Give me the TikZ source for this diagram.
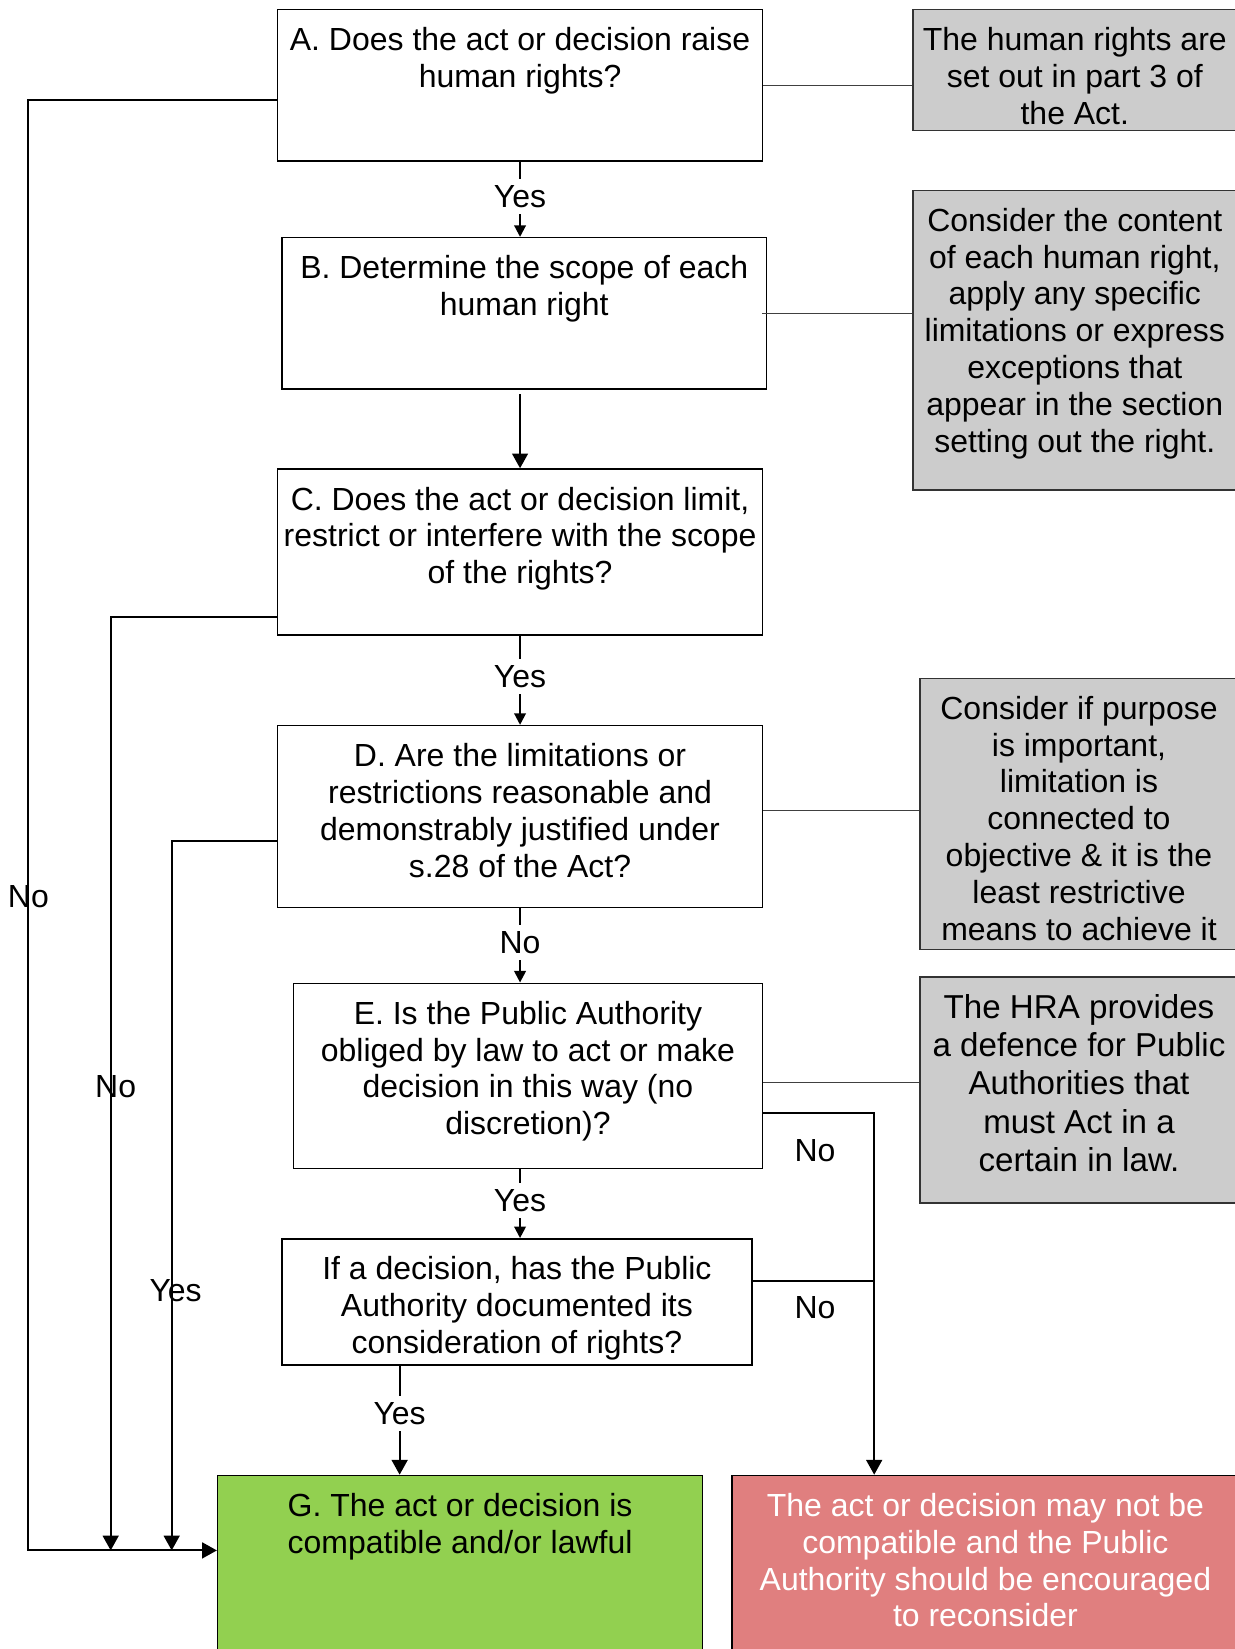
\documentclass[tikz,border=0pt]{standalone}
\usepackage{fontspec}
\setmainfont{Liberation Sans}
\usetikzlibrary{positioning,arrows.meta}
\definecolor{notegray}{HTML}{CCCCCC}
\definecolor{okgreen}{HTML}{92D050}
\definecolor{badred}{HTML}{E07F7F}

\begin{document}
\begin{tikzpicture}[x=1pt, y=-1pt,
  >={Triangle[length=14pt,width=15pt]},
  font=\fontsize{30.4}{35}\selectfont,
  qbox/.style={draw, line width=1.5pt, inner sep=0pt, fill=white},
  notebox/.style={qbox, draw=black!80, fill=notegray},
  txt/.style={inner sep=0pt, align=center},
  flow/.style={line width=2pt},
  short/.style={flow, -{Triangle[length=11pt,width=11pt]}},
  lbl/.style={inner sep=6pt},
  tag/.style={lbl, fill=white},
  noteline/.style={line width=0.9pt, black!75}]
  \useasboundingbox (0,0) rectangle (1174,1568);

  % question boxes
  \node[qbox, minimum width=461pt, minimum height=144pt] (A) at (494.5,81) {};
  \node[txt, below=17.5pt of A.north] (Atext) {A. Does the act or decision raise\\human rights?};
  \node[qbox, minimum width=461pt, minimum height=144pt] (B) at (498.5,298) {};
  \node[txt, below=17.5pt of B.north] (Btext) {B. Determine the scope of each\\human right};
  \node[qbox, minimum width=461pt, minimum height=158pt] (C) at (494.5,525) {};
  \node[txt, below=17.5pt of C.north] (Ctext) {C. Does the act or decision limit,\\restrict or interfere with the scope\\of the rights?};
  \node[qbox, minimum width=461pt, minimum height=173pt] (D) at (494.5,776.5) {};
  \node[txt, below=17.5pt of D.north] (Dtext) {D. Are the limitations or\\restrictions reasonable and\\demonstrably justified under\\s.28 of the Act?};
  \node[qbox, minimum width=446pt, minimum height=176pt] (E) at (502,1023) {};
  \node[txt, below=17.5pt of E.north] (Etext) {E. Is the Public Authority\\obliged by law to act or make\\decision in this way (no\\discretion)?};
  \node[qbox, minimum width=447pt, minimum height=120pt] (F) at (491.5,1238) {};
  \node[txt, below=17.5pt of F.north] (Ftext) {If a decision, has the Public\\Authority documented its\\consideration of rights?};

  % outcomes
  \node[qbox, fill=okgreen, minimum width=461pt, minimum height=182pt] (G) at (437.5,1494) {};
  \node[txt, below=17.5pt of G.north] (Gtext) {G. The act or decision is\\compatible and/or lawful};
  \node[qbox, fill=badred, minimum width=482pt, minimum height=182pt] (R) at (937,1494) {};
  \node[txt, text=white, below=17.5pt of R.north] (Rtext) {The act or decision may not be\\compatible and the Public\\Authority should be encouraged\\to reconsider};

  % notes
  \node[notebox, minimum width=308pt, minimum height=115pt] (N1) at (1022,66.5) {};
  \node[txt, below=17.5pt of N1.north] (N1text) {The human rights are\\set out in part 3 of\\the Act.};
  \node[notebox, minimum width=308pt, minimum height=285pt] (N2) at (1022,323.5) {};
  \node[txt, below=17.5pt of N2.north] (N2text) {Consider the content\\of each human right,\\apply any specific\\limitations or express\\exceptions that\\appear in the section\\setting out the right.};
  \node[notebox, minimum width=302pt, minimum height=258pt] (N3) at (1026,774) {};
  \node[txt, below=17.5pt of N3.north] (N3text) {Consider if purpose\\is important,\\limitation is\\connected to\\objective \& it is the\\least restrictive\\means to achieve it};
  \node[notebox, minimum width=302pt, minimum height=215pt] (N4) at (1026,1036.5) {};
  \node[txt, font=\fontsize{31.5}{36.2}\selectfont, below=17.5pt of N4.north] (N4text) {The HRA provides\\a defence for Public\\Authorities that\\must Act in a\\certain in law.};

  \draw[noteline] (A.east) -- (A.east -| N1.west);
  \draw[noteline] ([xshift=-5pt]B.east) -- (B.east -| N2.west);
  \draw[noteline] ([yshift=5.5pt]D.east) -- ([yshift=5.5pt]D.east -| N3.west);
  \draw[noteline] ([yshift=-6pt]E.east) -- ([yshift=-6pt]E.east -| N4.west);

  % main spine
  \draw[short] (A.south) -- node[tag, pos=0.46] (yesA) {Yes} (A.south |- B.north);
  \draw[flow,->] ([yshift=-4pt]A.south |- B.south) -- (A.south |- C.north);
  \draw[short] (C.south) -- node[tag, pos=0.46] (yesC) {Yes} (D.north);
  \draw[short] (D.south) -- node[tag, pos=0.46] (noD) {No} (D.south |- E.north);
  \draw[short] (D.south |- E.south) -- node[tag, pos=0.46] (yesE) {Yes} (D.south |- F.north);
  \draw[flow,->] ([xshift=-111.5pt]F.south) -- node[tag, pos=0.44] (yesF) {Yes} ([xshift=-111.5pt]F.south |- G.north);

  % branches to the outcomes
  \coordinate (gin) at ([yshift=-72pt]G.north west);
  \coordinate (rin) at ([xshift=136pt]R.north west);
  \draw[flow,->] ([yshift=-14pt]A.west) -- ++(-237,0) |- (gin);
  \draw[flow,->] ([yshift=-62pt]C.west) -- ++(-158,0) coordinate (c1) -- (c1 |- gin);
  \draw[flow,->] ([yshift=-23.5pt]D.west) -- ++(-100,0) coordinate (d1) -- (d1 |- gin);
  \draw[flow,->] ([yshift=-35pt]E.east) -| (rin);
  \draw[flow] ([yshift=20pt]F.east) -- ([yshift=20pt]F.east -| rin);

  \node[lbl] (noA) at (27,853) {No};
  \node[lbl] (noC) at (110,1033) {No};
  \node[lbl] (yesD) at (167,1227) {Yes};
  \node[lbl] (noE) at (775,1094) {No};
  \node[lbl] (noF) at (775,1243) {No};
\end{tikzpicture}
\end{document}
